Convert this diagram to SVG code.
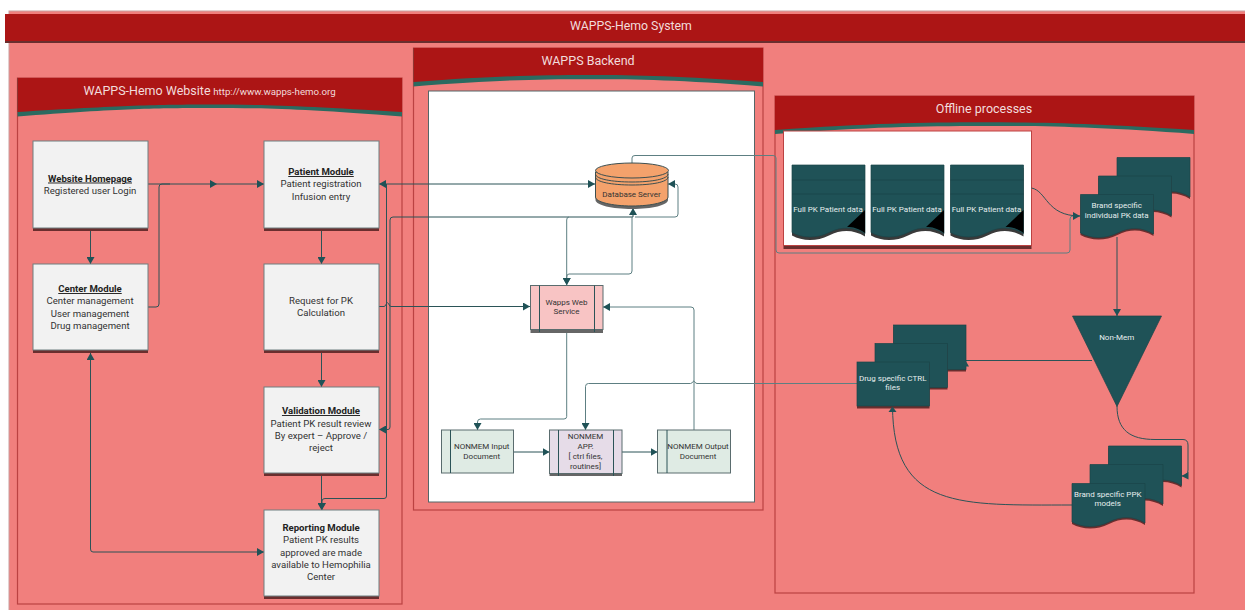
<svg xmlns="http://www.w3.org/2000/svg" xmlns:xlink="http://www.w3.org/1999/xlink" width="1245" height="610" viewBox="0 0 1245 610">
<style>
text{font-family:Roboto,"Liberation Sans",sans-serif;text-anchor:middle}
.n{font-size:9.600px;fill:#333}
.t{font-weight:700;text-decoration:underline;fill:#222}
.s{font-size:8px;fill:#333}
.w{font-size:8px;fill:#e6eeee}
.h{fill:#f2dcdc}
.panel{fill:#f17f7d;stroke:#bb4242;stroke-width:1.2}
.red{fill:#ac1515}
.wave{fill:#2b6a60}
.box{fill:#f2f2f2;stroke:#6f7f80;stroke-width:1}
.sh{fill:#6a2e2e}
.gsh{fill:#666}
.d{fill:#1f5257;stroke:#1a4549;stroke-width:.7}
.ds{fill:#6a2e2e}
.dg{fill:#3a3a3a}
.ln{stroke:#1a4549;stroke-width:.8;fill:none}
.c{fill:none;stroke:#2b5357;stroke-width:1;stroke-linejoin:round}
.l{fill:none;stroke:#5d7f82;stroke-width:1;stroke-linejoin:round}
.e{marker-end:url(#a)}
.bl{stroke:#2b5357;stroke-width:1;fill:none}
</style>
<defs>
<marker id="a" markerUnits="userSpaceOnUse" markerWidth="8" markerHeight="8" refX="7" refY="4" orient="auto"><path d="M0 0L7 4L0 8Z" fill="#1f5257"/></marker>
<marker id="b" markerUnits="userSpaceOnUse" markerWidth="8" markerHeight="8" refX="7" refY="4" orient="auto-start-reverse"><path d="M0 0L7 4L0 8Z" fill="#1f5257"/></marker>
<path id="doc" d="M0 0H73V39.500C62 33 50 32 37 38.500C24 45 10 44 0 38.500Z"/>
<path id="tall" d="M0 0H73V68.500C62 62 50 61 37 67.500C24 74 10 73 0 67.500Z"/>
</defs>

<g id="system">
<rect x="9" y="11" width="1240" height="604" fill="#f17f7d" stroke="#c9a0a0"/>
<rect x="5" y="16" width="1240" height="27" fill="#6a2e2e"/>
<rect x="5" y="14" width="1240" height="27" class="red"/>
<text x="631" y="30" font-size="12.300" class="h">WAPPS-Hemo System</text>
</g>

<g id="website-panel">
<rect x="17.500" y="78" width="384.500" height="526" class="panel"/>
<path d="M17.500 78H402V116.500C300 108.500 260 108 210 108C160 108 120 108.500 17.500 116.500Z" class="wave"/>
<path d="M17.500 78H402V112C300 105.500 260 104.500 210 104.500C160 104.500 120 105.500 17.500 112Z" class="red"/>
<text x="147" y="94.500" font-size="12.500" class="h">WAPPS-Hemo Website</text>
<text x="274.500" y="94.500" font-size="9.700" class="h">http://www.wapps-hemo.org</text>
</g>

<g id="backend-panel">
<rect x="413.500" y="48" width="349.500" height="462" class="panel"/>
<path d="M413.500 48H763V86.500C680 80 640 79.300 588 79.300C536 79.300 496 80 413.500 86.500Z" class="wave"/>
<path d="M413.500 48H763V82C680 76 640 75 588 75C536 75 496 76 413.500 82Z" class="red"/>
<text x="588" y="65" font-size="12.500" class="h">WAPPS Backend</text>
<rect x="428.500" y="91" width="326" height="411" fill="#fff" stroke="#556668" stroke-width="1"/>
</g>

<g id="offline-panel">
<rect x="775" y="96" width="419" height="497" class="panel"/>
<path d="M775 96H1194V134C1100 127 1050 126 984.500 126C919 126 870 127 775 134Z" class="wave"/>
<path d="M775 96H1194V130C1100 123.500 1050 122.300 984.500 122.300C919 122.300 870 123.500 775 130Z" class="red"/>
<text x="984" y="112.500" font-size="12.500" class="h">Offline processes</text>
<rect x="783.500" y="134" width="248" height="115" class="sh"/>
<rect x="783.500" y="131" width="248" height="114.500" fill="#fff" stroke="#bb4242"/>
</g>

<g id="connectors">
<path class="c e" d="M148 184H217"/>
<path class="c e" d="M217 184H264"/>
<path class="c" d="M148 307H156Q159 307 159 304V187Q159 184 162 184H170"/>
<path class="c e" d="M90.500 231V264"/>
<path class="c e" d="M321.500 231V264"/>
<path class="c e" d="M321.500 353V387"/>
<path class="c e" d="M321.500 476V510"/>
<path class="c" d="M90.500 353V549Q90.500 552 93 552H264" marker-start="url(#b)" marker-end="url(#b)"/>
<path class="c" d="M379 184H595" marker-start="url(#b)" marker-end="url(#b)"/>
<path class="c e" d="M386.500 184V496Q386.500 498.500 384 498.500H325Q322 498.500 322 501V510"/>
<path class="c e" d="M633 217H393Q390 217 390 220V427Q390 429.500 388 429.500H379"/>
<path class="c e" d="M633 217V208"/>
<path class="l e" d="M569 217Q566.700 217 566.700 220V285"/>
<path class="l e" d="M632 217V271Q632 274 629 274H569Q566.700 274 566.700 277V285"/>
<path class="l e" d="M635 217H675Q678 217 678 214V187Q678 184 675 184H668"/>
<path class="c e" d="M379 306.500H384Q385.500 306.500 386.500 303.500Q387.500 302 388.500 303.500Q389.500 306.500 391 306.500H530"/>
<path class="l" d="M632 163V158Q632 155.500 635 155.500H773Q776 155.500 776 158V250Q776 253 779 253H1067Q1070 253 1070 250V219Q1070 216 1073 216H1080"/>
<path class="c e" d="M1031.500 188C1047 191 1046 216 1080 216"/>
<path class="l e" d="M566.700 332V416.500Q566.700 419 564 419H480.500Q477.500 419 477.500 422V430"/>
<path class="c e" d="M513.500 452H549.500"/>
<path class="c e" d="M622 452H657.500"/>
<path class="l e" d="M694 430V310Q694 307 691 307H603"/>
<path class="l e" d="M857 383.500H697Q695.500 383.500 694.500 381.500Q694 380.500 693 381.500Q692 383.500 690.500 383.500H588.500Q585.500 383.500 585.500 386.500V430"/>
<path class="c e" d="M1117 237V316"/>
<path class="c" d="M1092 360.500H966"/>
<path class="c" d="M1117 406C1117 430 1130 439.500 1155 439.500H1183Q1188 439.500 1188 445V470Q1188 476 1182 476"/>
<path class="c" d="M1072 505C960 505 893 510 892.500 406"/>
</g>

<g id="website-homepage">
<rect x="33" y="144" width="115" height="87" class="sh"/><rect x="33" y="141" width="115" height="87" class="box"/>
<text x="90" y="181.500" class="n t">Website Homepage</text><text x="90" y="193.500" class="n">Registered user Login</text></g>

<g id="center-module">
<rect x="33" y="267" width="115" height="86" class="sh"/><rect x="33" y="264" width="115" height="86" class="box"/>
<text x="90" y="292" class="n t">Center Module</text><text x="90" y="304" class="n">Center management</text><text x="90" y="316.500" class="n">User management</text><text x="90" y="328.500" class="n">Drug management</text></g>

<g id="patient-module">
<rect x="264" y="144" width="115" height="87" class="sh"/><rect x="264" y="141" width="115" height="87" class="box"/>
<text x="321" y="175" class="n t">Patient Module</text><text x="321" y="187" class="n">Patient registration</text><text x="321" y="199.500" class="n">Infusion entry</text></g>

<g id="request-pk">
<rect x="264" y="267" width="115" height="86" class="sh"/><rect x="264" y="264" width="115" height="86" class="box"/>
<text x="321" y="304" class="n">Request for PK</text><text x="321" y="316" class="n">Calculation</text></g>

<g id="validation-module">
<rect x="264" y="390" width="115" height="86" class="sh"/><rect x="264" y="387" width="115" height="86" class="box"/>
<text x="321" y="414" class="n t">Validation Module</text><text x="321" y="426.500" class="n">Patient PK result review</text><text x="321" y="439" class="n">By expert – Approve /</text><text x="321" y="451" class="n">reject</text></g>

<g id="reporting-module">
<rect x="264" y="513" width="115" height="86" class="sh"/><rect x="264" y="510" width="115" height="86" class="box"/>
<text x="321" y="531" class="n" font-weight="700" style="fill:#222">Reporting Module</text><text x="321" y="543" class="n">Patient PK results</text><text x="321" y="555.500" class="n">approved are made</text><text x="321" y="567.500" class="n">available to Hemophilia</text><text x="321" y="580" class="n">Center</text></g>

<g id="database-server">
<path d="M595.500 172V200C595.500 205 612 209 632 209C652 209 668 205 668 200V172Z" class="gsh"/>
<path d="M595.500 172V197C595.500 202 612 206 632 206C652 206 668 202 668 197V172Z" fill="#f4a26c" stroke="#3d4f50"/>
<ellipse cx="632" cy="170.500" rx="36.500" ry="7.500" fill="#f4a26c" stroke="#3d4f50"/>
<path class="bl" d="M595.500 174C595.500 179 612 182 632 182C652 182 668 179 668 174M595.500 177C595.500 182 612 185 632 185C652 185 668 182 668 177" style="stroke:#3d4f50"/>
<text x="631.500" y="197" class="s">Database Server</text></g>

<g id="wapps-web-service">
<rect x="530.500" y="288" width="72.500" height="45" class="gsh"/>
<rect x="530.500" y="285.500" width="72.500" height="44" fill="#f8c4c4" stroke="#5a6c6e"/>
<path class="bl" d="M539.500 285.500V332M594.500 285.500V332"/>
<text x="566.500" y="304.500" class="s">Wapps Web</text><text x="566.500" y="314" class="s">Service</text></g>

<g id="nonmem-input">
<rect x="441.500" y="430" width="72" height="43" fill="#dfebe4" stroke="#5a6c6e"/>
<path class="bl" d="M450.500 430V473"/>
<text x="481.700" y="449" class="s">NONMEM Input</text><text x="481.700" y="458.500" class="s">Document</text></g>

<g id="nonmem-app">
<rect x="549.500" y="432" width="72.500" height="44" class="gsh"/>
<rect x="549.500" y="430" width="72.500" height="43.500" fill="#e6dce8" stroke="#5a6c6e"/>
<path class="bl" d="M558.500 430V476M613.500 430V476"/>
<text x="585.500" y="439" class="s">NONMEM</text><text x="585.500" y="449" class="s">APP.</text><text x="585.500" y="459" class="s">[ ctrl files,</text><text x="585.500" y="468.500" class="s">routines]</text></g>

<g id="nonmem-output">
<rect x="657.500" y="430" width="73" height="43" fill="#dfebe4" stroke="#5a6c6e"/>
<path class="bl" d="M667 430V473"/>
<text x="698" y="449" class="s">NONMEM Output</text><text x="698" y="458.500" class="s">Document</text></g>

<g id="full-pk-1" transform="translate(792 165)">
<use xlink:href="#tall" href="#tall" y="3" class="dg"/><use xlink:href="#tall" href="#tall" class="d"/>
<path class="ln" d="M0 15H73M0 29H73"/><path d="M55 62L73 45V68C66 63 61 62 55 62Z" fill="#000"/>
<text x="36" y="47" class="w">Full PK Patient data</text></g>
<g id="full-pk-2" transform="translate(871 165)">
<use xlink:href="#tall" href="#tall" y="3" class="dg"/><use xlink:href="#tall" href="#tall" class="d"/>
<path class="ln" d="M0 15H73M0 29H73"/><path d="M55 62L73 45V68C66 63 61 62 55 62Z" fill="#000"/>
<text x="36" y="47" class="w">Full PK Patient data</text></g>
<g id="full-pk-3" transform="translate(950.500 165)">
<use xlink:href="#tall" href="#tall" y="3" class="dg"/><use xlink:href="#tall" href="#tall" class="d"/>
<path class="ln" d="M0 15H73M0 29H73"/><path d="M55 62L73 45V68C66 63 61 62 55 62Z" fill="#000"/>
<text x="36" y="47" class="w">Full PK Patient data</text></g>

<g id="brand-individual-pk">
<use xlink:href="#doc" href="#doc" x="1117" y="159.500" class="ds"/><use xlink:href="#doc" href="#doc" x="1117" y="157.500" class="d"/>
<use xlink:href="#doc" href="#doc" x="1098.500" y="178" class="ds"/><use xlink:href="#doc" href="#doc" x="1098.500" y="176" class="d"/>
<use xlink:href="#doc" href="#doc" x="1080.500" y="196.500" class="ds"/><use xlink:href="#doc" href="#doc" x="1080.500" y="194.500" class="d"/>
<text x="1116.700" y="207.800" class="w">Brand specific</text><text x="1116.700" y="217.600" class="w">individual PK data</text></g>

<g id="non-mem">
<path d="M1072.500 316H1161.500L1117 406.500Z" class="d"/>
<text x="1116.700" y="339.500" class="w">Non-Mem</text></g>

<g id="drug-ctrl-files">
<rect x="893.500" y="327" width="72.500" height="44.500" class="ds"/><rect x="893.500" y="325" width="72.500" height="44.500" class="d"/>
<rect x="875" y="345" width="72.500" height="44.500" class="ds"/><rect x="875" y="343.500" width="72.500" height="44" class="d"/>
<rect x="857" y="364" width="72.500" height="44.500" class="ds"/><rect x="857" y="362" width="72.500" height="44" class="d"/>
<text x="892.700" y="380.500" class="w">Drug specific CTRL</text><text x="892.700" y="390" class="w">files</text></g>

<g id="brand-ppk-models">
<use xlink:href="#doc" href="#doc" x="1108.500" y="448" class="ds"/><use xlink:href="#doc" href="#doc" x="1108.500" y="446" class="d"/>
<use xlink:href="#doc" href="#doc" x="1090" y="466.500" class="ds"/><use xlink:href="#doc" href="#doc" x="1090" y="464.500" class="d"/>
<use xlink:href="#doc" href="#doc" x="1072" y="485.500" class="ds"/><use xlink:href="#doc" href="#doc" x="1072" y="483.500" class="d"/>
<text x="1107.700" y="496.500" class="w">Brand specific PPK</text><text x="1107.700" y="506" class="w">models</text></g>

<g id="overlay-arrows">
<path d="M965.500 360.500L969 366.500H962Z" fill="#1f5257"/>
<path d="M1181.500 476L1188.500 472V479.500Z" fill="#1f5257"/>
<path d="M892.500 406.500L888.500 412H896.500Z" fill="#1f5257"/>
</g>
</svg>
